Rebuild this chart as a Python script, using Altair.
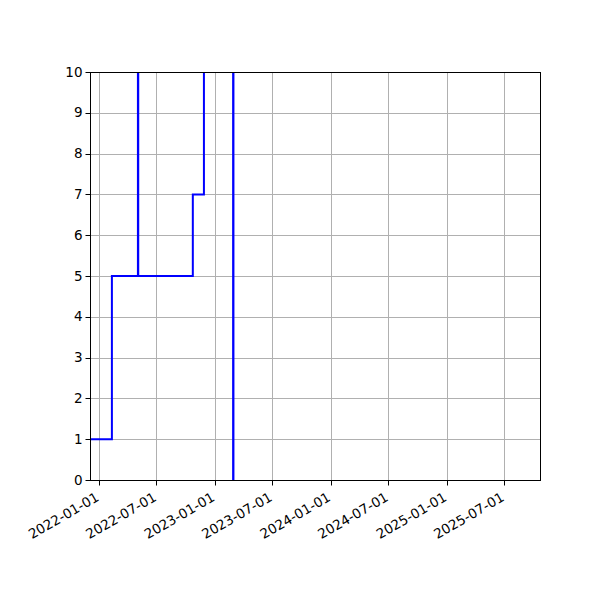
import altair as alt
import pandas as pd

dates = ["2021-11-01", "2022-02-11", "2022-05-04", "2022-05-05", "2022-10-24",
         "2022-11-28", "2023-02-28", "2023-03-01"]
values = [1, 5, 30, 5, 7, 30, -20, 30]

tick_dates = [(2022, 1), (2022, 7), (2023, 1), (2023, 7), (2024, 1), (2024, 7), (2025, 1), (2025, 7)]
y_ticks = list(range(0, 11))

df = pd.DataFrame({"date": dates, "value": values})

font = "DejaVu Sans"
W, H = 450, 408

line = alt.Chart(df).mark_line(
    interpolate="step-after", color="#0000ff", strokeWidth=2, clip=True
).encode(
    x=alt.X(
        "date:T",
        scale=alt.Scale(
            type="utc",
            domain=[alt.DateTime(year=2021, month=12, date=4, utc=True),
                    alt.DateTime(year=2025, month=10, date=22, utc=True)],
        ),
        axis=alt.Axis(
            values=[alt.DateTime(year=y, month=m, date=1, utc=True) for y, m in tick_dates],
            labelExpr="utcFormat(datum.value, '%Y-%m-%d')",
            labelAngle=-30, labelAlign="right", labelBaseline="top",
            labelFont=font, labelFontSize=13.5, labelColor="black",
            labelPadding=5, labelOffset=-5, labelOverlap=False, labelFlush=False,
            grid=True, gridColor="#b0b0b0", gridWidth=1,
            domain=False,
            ticks=True, tickColor="black", tickSize=5,
            title=None,
        ),
    ),
    y=alt.Y(
        "value:Q",
        scale=alt.Scale(domain=[0, 10], nice=False, zero=False),
        axis=alt.Axis(
            values=y_ticks, format="d",
            labelFont=font, labelFontSize=13.5, labelColor="black",
            labelPadding=3, labelOverlap=False, labelFlush=False,
            grid=True, gridColor="#b0b0b0", gridWidth=1,
            domain=False,
            ticks=True, tickColor="black", tickSize=5,
            title=None,
        ),
    ),
)

frame = alt.Chart(df).mark_rect(fill=None, stroke="black", strokeWidth=1).encode(
    x=alt.value(0.5), x2=alt.value(W + 0.5), y=alt.value(0.5), y2=alt.value(H + 0.5)
)

chart = alt.layer(line, frame).properties(
    width=W, height=H,
    padding={"left": 82, "top": 64, "right": 52, "bottom": 104},
    autosize=alt.AutoSizeParams(type="none"),
).configure_view(strokeWidth=0).configure(background="white")

chart.save("out.html", embed_options={"renderer": "svg", "actions": False})
